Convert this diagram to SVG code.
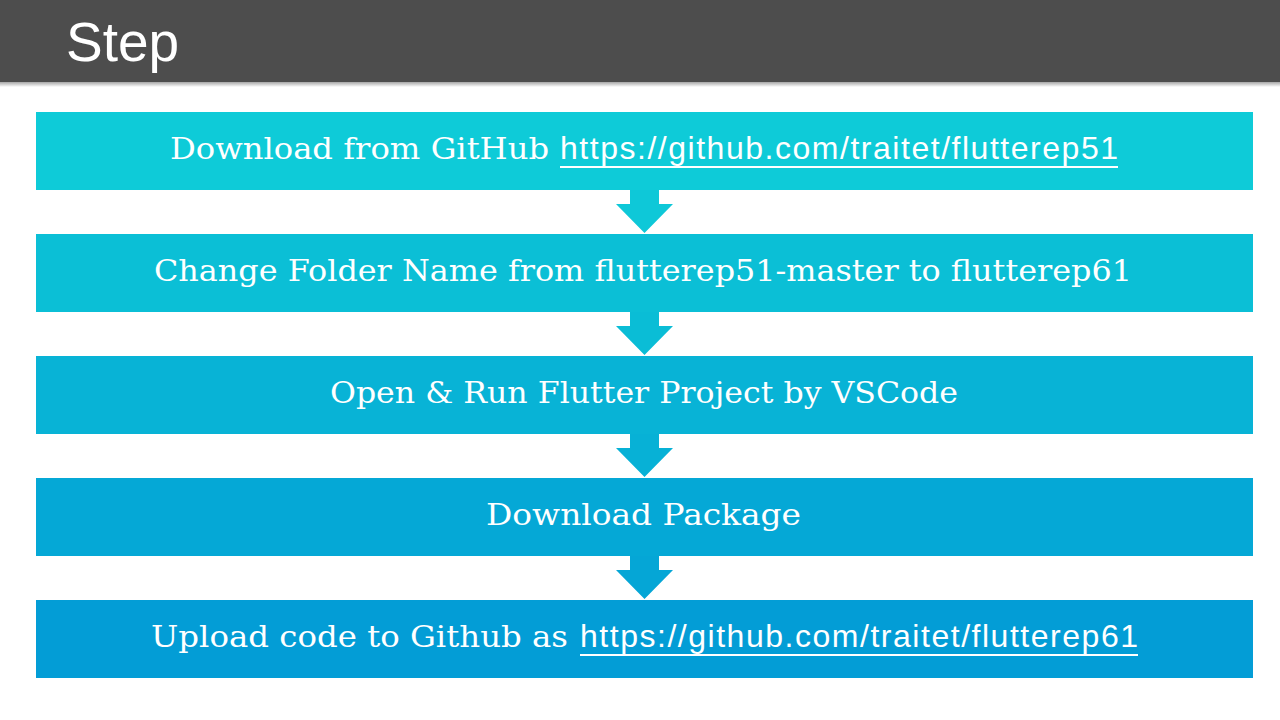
<svg xmlns="http://www.w3.org/2000/svg" width="1280" height="720" viewBox="0 0 1280 720">
<defs>
<linearGradient id="sh" x1="0" y1="0" x2="0" y2="1">
<stop offset="0" stop-color="#000" stop-opacity="0.35"/>
<stop offset="1" stop-color="#000" stop-opacity="0"/>
</linearGradient>
</defs>
<style>
.t{font-family:"DejaVu Serif","Liberation Serif",serif;font-size:29px;fill:#fff}
.l{font-family:"Liberation Sans",Arial,sans-serif;font-size:32px;fill:#fff}
.u{fill:#fff}
</style>
<rect width="1280" height="720" fill="#fff"/>
<g id="header">
<rect x="0" y="82" width="1280" height="5" fill="url(#sh)"/>
<rect x="0" y="0" width="1280" height="82" fill="#4d4d4d"/>
<text x="66" y="61" font-family="Liberation Sans,Arial,sans-serif" font-size="55" fill="#fff">Step</text>
</g>
<g id="connectors">
<path d="M630 190H659V204H673L644.5 233L616 204H630Z" fill="#0ec8d8"/>
<path d="M630 312H659V326H673L644.5 355L616 326H630Z" fill="#0abdd6"/>
<path d="M630 434H659V448H673L644.5 477L616 448H630Z" fill="#07b1d6"/>
<path d="M630 556H659V570H673L644.5 599L616 570H630Z" fill="#05a6d6"/>
</g>
<g id="step1">
<rect x="36" y="112" width="1217" height="78" fill="#0ecbd8"/>
<text class="t" x="170" y="159" textLength="379" lengthAdjust="spacingAndGlyphs">Download from GitHub</text>
<text class="l" x="560" y="159" textLength="558" lengthAdjust="spacing">https://github.com/traitet/flutterep51</text>
<rect class="u" x="560" y="166" width="558" height="2"/>
</g>
<g id="step2">
<rect x="36" y="234" width="1217" height="78" fill="#0bbfd6"/>
<text class="t" x="154" y="281" textLength="978" lengthAdjust="spacingAndGlyphs">Change Folder Name from flutterep51-master to flutterep61</text>
</g>
<g id="step3">
<rect x="36" y="356" width="1217" height="78" fill="#08b3d6"/>
<text class="t" x="330" y="403" textLength="628" lengthAdjust="spacingAndGlyphs">Open &amp; Run Flutter Project by VSCode</text>
</g>
<g id="step4">
<rect x="36" y="478" width="1217" height="78" fill="#05a8d6"/>
<text class="t" x="486" y="525" textLength="315" lengthAdjust="spacingAndGlyphs">Download Package</text>
</g>
<g id="step5">
<rect x="36" y="600" width="1217" height="78" fill="#039dd6"/>
<text class="t" x="151" y="647" textLength="417" lengthAdjust="spacingAndGlyphs">Upload code to Github as</text>
<text class="l" x="580" y="647" textLength="558" lengthAdjust="spacing">https://github.com/traitet/flutterep61</text>
<rect class="u" x="580" y="654" width="558" height="2"/>
</g>
</svg>
